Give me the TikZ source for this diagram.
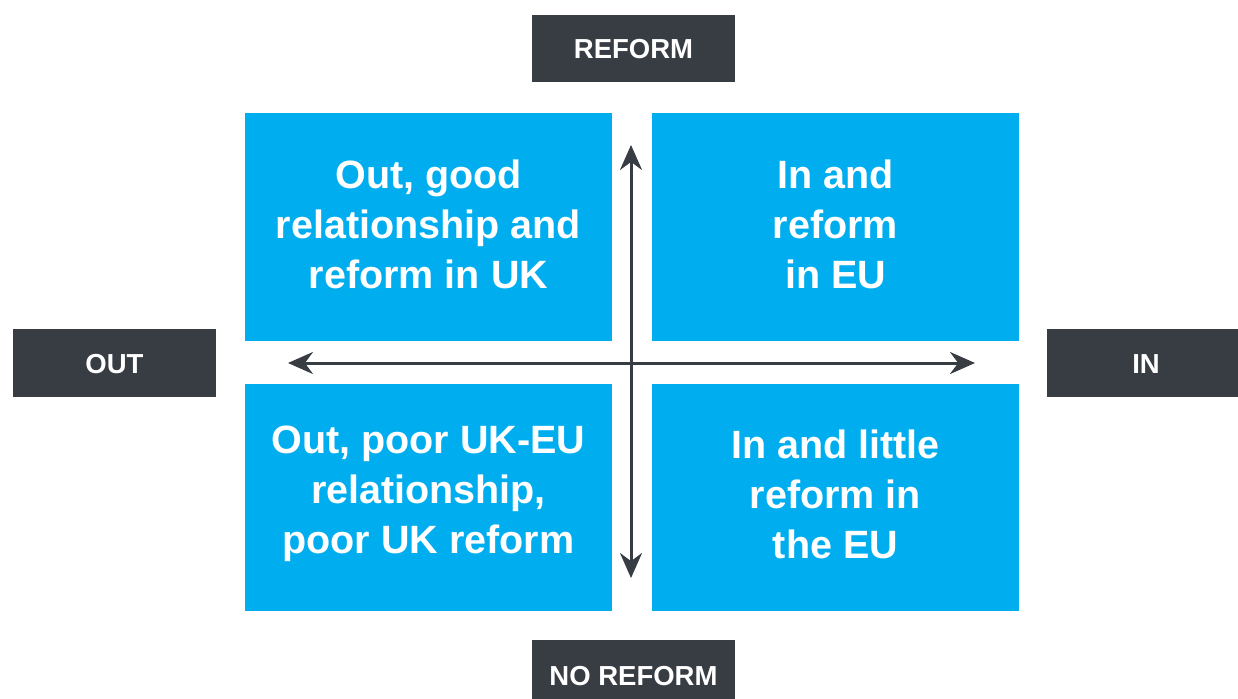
\documentclass[tikz,border=0pt]{standalone}
\usepackage{fontspec}
\setmainfont{Liberation Sans}
\usetikzlibrary{arrows.meta}
\definecolor{quadblue}{HTML}{00AEEF}
\definecolor{slate}{HTML}{383D44}
\tikzset{
  quad/.style={fill=quadblue, draw=none, text=white, align=center,
    font=\fontsize{39.5}{50}\selectfont\bfseries},
  axislabel/.style={fill=slate, draw=none, text=white,
    font=\fontsize{27.5}{30}\selectfont\bfseries},
  axis/.style={draw=slate, line width=3pt,
    {Stealth[length=25pt,width=22pt]}-{Stealth[length=25pt,width=22pt]}}
}
\begin{document}
\begin{tikzpicture}[x=1pt,y=-1pt]
  \useasboundingbox (0,0) rectangle (1238,698);
  \clip (0,0) rectangle (1238,698);

  % four quadrants
  \path[fill=quadblue] (245,113) rectangle (612,341);
  \path[fill=quadblue] (652,113) rectangle (1019,341);
  \path[fill=quadblue] (245,384) rectangle (612,611);
  \path[fill=quadblue] (652,384) rectangle (1019,611);
  \node[quad] (tl) at (428.5,224) {Out, good\\relationship and\\reform in UK};
  \node[quad] (tr) at (835.5,224) {In and\\reform\\in EU};
  \node[quad] (bl) at (428.5,494) {Out, poor UK-EU\\relationship,\\poor UK reform};
  \node[quad] (br) at (835.5,494) {In and little\\reform in\\the EU};

  % axis labels
  \path[fill=slate] (532,15) rectangle (735,82);
  \node[axislabel] (reform) at (633.5,49) {REFORM};
  \path[fill=slate] (532,640) rectangle (735,710);
  \node[axislabel] (noreform) at (633.5,676) {NO REFORM};
  \path[fill=slate] (13,329) rectangle (216,397);
  \node[axislabel] (out) at (114.5,364) {OUT};
  \path[fill=slate] (1047,329) rectangle (1250,397);
  \node[axislabel] (in) at (1146,364) {IN};

  % axes
  \coordinate (top) at (631,145);
  \coordinate (bottom) at (631,578);
  \coordinate (left) at (288,363);
  \coordinate (right) at (975,363);
  \draw[axis] (left) -- (right);
  \draw[axis] (bottom) -- (top);
\end{tikzpicture}
\end{document}
